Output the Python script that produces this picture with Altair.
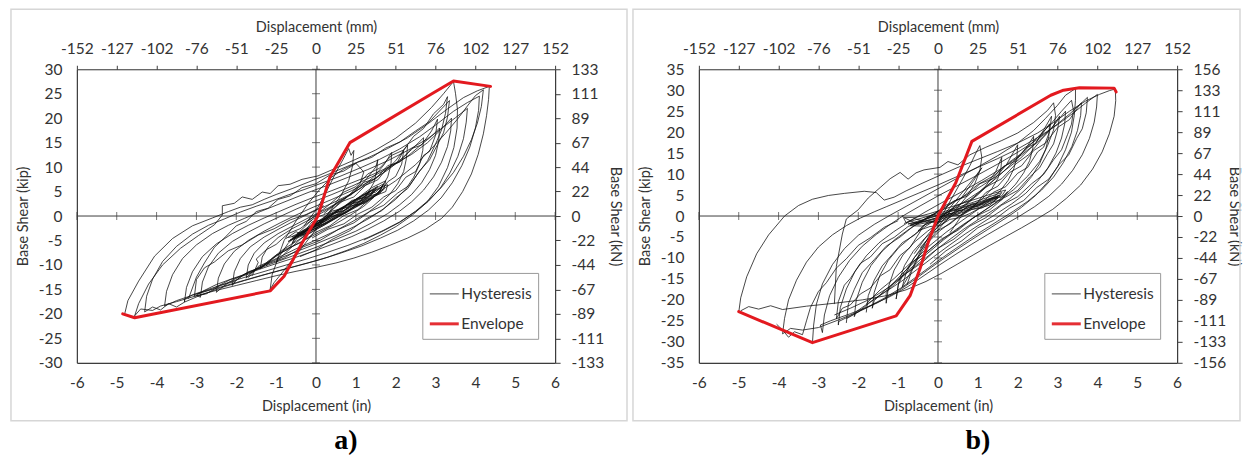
import altair as alt
import pandas as pd

# ---------------- data (inches, kip) ----------------
X_TICKS = [-6, -5, -4, -3, -2, -1, 0, 1, 2, 3, 4, 5, 6]
MM_LABELS = ["-152", "-127", "-102", "-76", "-51", "-25", "0", "25", "51", "76", "102", "127", "152"]
YA_TICKS = [-30, -25, -20, -15, -10, -5, 0, 5, 10, 15, 20, 25, 30]
KN_A = ["-133", "-111", "-89", "-67", "-44", "-22", "0", "22", "44", "67", "89", "111", "133"]
YB_TICKS = [-35, -30, -25, -20, -15, -10, -5, 0, 5, 10, 15, 20, 25, 30, 35]
KN_B = ["-156", "-133", "-111", "-89", "-67", "-44", "-22", "0", "22", "44", "67", "89", "111", "133", "156"]

SERIES = ["Hysteresis", "Envelope"]
SERIES_COLORS = ["#0f0f0f", "#e3191f"]
SERIES_WIDTHS = [0.85, 3.0]

ENV_A_X = [-4.85, -4.55, -1.15, -0.80, -0.35, 0.05, 0.35, 0.85, 2.95, 3.45, 4.38]
ENV_A_Y = [-20.0, -20.8, -15.3, -12.3, -5.5, 0.0, 8.0, 15.0, 25.2, 27.6, 26.5]

ENV_B_X = [-5.00, -3.15, -1.05, -0.70, -0.45, -0.25, 0.00, 0.45, 0.85, 2.83, 3.15, 3.55, 4.42, 4.47]
ENV_B_Y = [-22.8, -30.2, -23.8, -19.0, -12.5, -6.4, 0.0, 8.0, 17.8, 28.8, 30.0, 30.6, 30.5, 29.6]

HYST_A = [
    [(-4.80, -20.0), (-4.72, -17.3), (-4.45, -13.3), (-4.05, -8.2), (-3.60, -4.6), (-3.10, -2.0), (-2.60, -0.4),
     (-2.20, 0.9), (-1.90, 1.8), (-1.60, 2.3), (-1.30, 3.4), (-1.00, 4.4), (-0.60, 5.6), (-0.20, 6.9), (0.30, 8.5),
     (0.80, 10.2), (1.30, 11.9), (1.80, 13.8), (2.30, 16.0), (2.80, 18.8), (3.30, 21.9), (3.70, 24.2), (4.05, 25.6),
     (4.35, 26.5), (4.33, 23.8), (4.28, 20.5), (4.20, 16.8), (4.07, 12.6), (3.90, 8.6), (3.68, 5.0), (3.42, 1.8),
     (3.15, -0.5), (2.75, -2.7), (2.30, -4.5), (1.85, -6.0), (1.40, -7.4), (0.95, -8.6), (0.50, -9.6), (0.00, -10.5),
     (-0.50, -11.3), (-1.00, -12.2), (-1.50, -13.2), (-2.00, -14.2), (-2.50, -15.2), (-3.00, -16.3), (-3.50, -17.5),
     (-3.90, -18.4), (-4.10, -19.3), (-4.40, -19.0), (-4.55, -20.4)],
    [(-4.55, -20.4), (-4.45, -17.9), (-4.20, -13.9), (-3.85, -10.0), (-3.40, -6.6), (-2.95, -4.0), (-2.55, -1.8),
     (-2.35, 0.2), (-2.35, 2.1), (-2.05, 2.6), (-1.85, 3.9), (-1.60, 3.4), (-1.35, 4.9), (-1.15, 4.6), (-0.95, 6.2),
     (-0.65, 6.5), (-0.35, 7.5), (0.05, 8.2), (0.50, 9.8), (1.00, 11.6), (1.50, 13.5), (2.00, 15.9), (2.50, 19.0),
     (2.90, 22.2), (3.20, 25.0), (3.45, 27.5), (3.50, 25.1), (3.55, 21.8), (3.54, 18.0), (3.46, 14.0), (3.30, 9.9),
     (3.07, 6.0), (2.78, 2.8), (2.42, 0.2), (2.02, -2.1), (1.62, -3.9), (1.20, -5.6), (0.78, -7.0), (0.30, -8.4),
     (-0.20, -9.6), (-0.70, -10.7), (-1.20, -11.8), (-1.80, -13.2), (-2.40, -14.7), (-2.90, -16.2), (-3.30, -17.6),
     (-3.50, -18.6), (-3.70, -17.9), (-3.90, -19.2), (-4.10, -18.6), (-4.30, -19.6)],
    [(-4.30, -19.6), (-4.25, -16.4), (-4.10, -12.9), (-3.85, -9.3), (-3.50, -6.2), (-3.10, -3.7), (-2.70, -1.9),
     (-2.30, -0.6), (-1.90, 0.8), (-1.50, 2.0), (-1.10, 3.1), (-0.70, 4.3), (-0.30, 5.4), (0.10, 6.6), (0.60, 8.1),
     (1.10, 9.8), (1.60, 11.6), (2.10, 13.7), (2.60, 16.2), (3.05, 18.9), (3.45, 21.4), (3.80, 23.2), (4.10, 24.5),
     (4.08, 21.6), (4.00, 18.0), (3.86, 14.1), (3.66, 10.3), (3.42, 6.8), (3.14, 3.7), (2.82, 1.2), (2.45, -1.0),
     (2.05, -2.9), (1.62, -4.5), (1.15, -6.1), (0.65, -7.5), (0.15, -8.8), (-0.40, -10.0), (-0.90, -11.1),
     (-1.40, -12.2), (-2.00, -13.6), (-2.60, -15.0), (-3.10, -16.2), (-3.50, -17.3), (-3.80, -18.4)],
    [(-3.80, -18.4), (-3.75, -15.4), (-3.60, -12.0), (-3.35, -8.7), (-3.00, -5.9), (-2.60, -3.6), (-2.20, -1.9),
     (-1.80, -0.5), (-1.40, 0.9), (-1.00, 2.2), (-0.60, 3.5), (-0.20, 4.8), (0.30, 6.3), (0.80, 7.9), (1.30, 9.5),
     (1.80, 11.3), (2.30, 13.4), (2.80, 15.8), (3.20, 18.2), (3.50, 20.1), (3.80, 22.0), (3.77, 19.2), (3.70, 15.8),
     (3.56, 12.2), (3.36, 8.8), (3.12, 5.7), (2.82, 3.0), (2.50, 0.9), (2.10, -1.2), (1.70, -2.9), (1.30, -4.4),
     (0.80, -6.0), (0.30, -7.4), (-0.20, -8.7), (-0.70, -9.9), (-1.20, -11.1), (-1.70, -12.3), (-2.20, -13.6),
     (-2.70, -15.0), (-3.10, -16.1), (-3.30, -17.0)],
    [(-3.30, -17.0), (-3.30, -17.6), (-3.25, -14.6), (-3.10, -11.4), (-2.85, -8.3), (-2.50, -5.7), (-2.10, -3.6),
     (-1.70, -1.9), (-1.30, -0.4), (-0.90, 1.0), (-0.50, 2.4), (-0.10, 3.7), (0.40, 5.2), (0.90, 6.8), (1.40, 8.4),
     (1.90, 10.3), (2.40, 12.6), (2.80, 15.0), (3.10, 17.4), (3.40, 20.0), (3.38, 17.4), (3.30, 14.2), (3.15, 11.0),
     (2.95, 8.0), (2.70, 5.3), (2.40, 2.9), (2.10, 1.0), (1.70, -1.0), (1.30, -2.7), (0.90, -4.2), (0.40, -5.8),
     (-0.10, -7.3), (-0.60, -8.7), (-1.10, -10.0), (-1.60, -11.4), (-2.10, -12.8), (-2.50, -14.0), (-2.80, -15.2),
     (-3.00, -16.2)],
    [(-3.00, -16.2), (-2.90, -16.6), (-2.85, -13.5), (-2.70, -10.4), (-2.45, -7.6), (-2.10, -5.2), (-1.70, -3.3),
     (-1.30, -1.6), (-0.90, -0.1), (-0.50, 1.4), (-0.10, 2.8), (0.40, 4.4), (0.90, 6.1), (1.40, 8.0), (1.90, 10.1),
     (2.30, 12.2), (2.60, 14.3), (2.90, 16.3), (3.10, 18.0), (3.08, 15.4), (3.00, 12.4), (2.85, 9.5), (2.65, 6.8),
     (2.40, 4.4), (2.10, 2.3), (1.80, 0.5), (1.40, -1.4), (1.00, -3.1), (0.50, -4.8), (0.00, -6.4), (-0.50, -7.9),
     (-1.00, -9.4), (-1.50, -10.9), (-1.90, -12.3), (-2.20, -13.6), (-2.40, -14.9)],
    [(-2.40, -14.9), (-2.50, -15.6), (-2.45, -12.7), (-2.30, -9.8), (-2.05, -7.2), (-1.70, -5.0), (-1.30, -3.1),
     (-0.90, -1.4), (-0.50, 0.2), (-0.10, 1.7), (0.40, 3.4), (0.90, 5.2), (1.40, 7.3), (1.80, 9.4), (2.10, 11.4),
     (2.40, 13.6), (2.70, 16.0), (2.68, 13.4), (2.60, 10.6), (2.45, 7.9), (2.25, 5.5), (2.00, 3.4), (1.70, 1.5),
     (1.35, -0.4), (0.95, -2.2), (0.50, -4.0), (0.00, -5.7), (-0.50, -7.3), (-1.00, -8.9), (-1.40, -10.4),
     (-1.80, -11.9), (-2.00, -13.1)],
    [(-2.00, -13.1), (-2.10, -14.2), (-2.05, -11.4), (-1.90, -8.7), (-1.65, -6.3), (-1.30, -4.3), (-0.90, -2.5),
     (-0.50, -0.8), (-0.10, 0.8), (0.40, 2.6), (0.90, 4.6), (1.30, 6.6), (1.70, 8.9), (2.00, 11.3), (2.30, 14.5),
     (2.27, 11.8), (2.20, 9.1), (2.05, 6.6), (1.85, 4.4), (1.60, 2.5), (1.30, 0.7), (0.90, -1.2), (0.50, -3.0),
     (0.00, -4.9), (-0.50, -6.7), (-0.90, -8.3), (-1.30, -9.9), (-1.60, -11.4), (-1.75, -12.7)],
    [(-1.75, -12.7), (-1.70, -10.0), (-1.55, -7.6), (-1.30, -5.5), (-0.95, -3.6), (-0.55, -1.9), (-0.15, -0.2),
     (0.30, 1.6), (0.70, 3.5), (1.10, 5.6), (1.45, 8.0), (1.70, 10.4), (1.90, 13.0), (1.88, 10.4), (1.80, 8.0),
     (1.65, 5.8), (1.45, 3.8), (1.20, 2.0), (0.85, 0.1), (0.45, -1.8), (0.00, -3.7), (-0.45, -5.6), (-0.85, -7.4),
     (-1.20, -9.2), (-1.40, -10.8)],
    [(-1.40, -10.8), (-1.35, -8.4), (-1.20, -6.3), (-0.95, -4.4), (-0.60, -2.6), (-0.20, -0.9), (0.20, 0.9),
     (0.60, 2.9), (0.95, 5.0), (1.25, 7.4), (1.50, 10.0), (1.55, 11.5), (1.52, 9.0), (1.45, 6.8), (1.30, 4.7),
     (1.10, 2.9), (0.80, 1.0), (0.40, -0.9), (0.00, -2.8), (-0.40, -4.7), (-0.80, -6.7), (-1.10, -8.6), (-1.25, -10.2)],
    [(-0.30, -2.0), (0.05, 1.8), (0.30, 5.6), (0.50, 8.9), (0.68, 11.6), (0.82, 13.8), (0.88, 12.4), (0.95, 13.4),
     (0.92, 10.3), (0.82, 7.2), (0.62, 4.1), (0.35, 1.0), (0.05, -2.2), (-0.30, -5.9), (-0.60, -9.0), (-0.85, -11.6),
     (-1.05, -13.6), (-1.15, -15.0), (-1.10, -12.0), (-0.95, -8.6), (-0.70, -5.6), (-0.40, -3.1), (-0.10, -0.8)],
    [(-1.00, -9.5), (-0.80, -5.0), (-0.50, -1.0), (-0.20, 2.5), (0.10, 5.5), (0.40, 8.0), (0.70, 9.6), (1.00, 10.8),
     (1.20, 9.0), (1.10, 6.5), (0.80, 4.0), (0.40, 1.2), (0.00, -1.8), (-0.40, -4.8), (-0.80, -7.8), (-1.00, -9.5)],
    [(-0.60, -4.2), (-0.20, -2.5), (0.20, -0.6), (0.60, 1.4), (1.00, 3.2), (1.40, 5.2), (1.70, 6.6), (1.60, 5.0),
     (1.30, 3.3), (0.90, 1.6), (0.50, -0.3), (0.10, -2.1), (-0.30, -3.7), (-0.65, -4.9)],
    [(-0.65, -4.9), (-0.30, -3.1), (0.10, -1.2), (0.50, 0.9), (0.90, 2.8), (1.30, 4.9), (1.55, 6.1), (1.40, 4.4),
     (1.05, 2.6), (0.65, 0.8), (0.25, -1.0), (-0.15, -2.7), (-0.50, -4.0)],
    [(-0.50, -4.0), (-0.15, -2.4), (0.25, -0.4), (0.65, 1.6), (1.05, 3.7), (1.40, 5.8), (1.75, 7.2), (1.70, 5.4),
     (1.40, 3.6), (1.00, 1.8), (0.60, 0.0), (0.20, -1.9), (-0.20, -3.6), (-0.70, -5.2)],
    [(-0.70, -5.2), (-0.40, -3.9), (0.00, -1.9), (0.40, 0.3), (0.80, 2.4), (1.20, 4.4), (1.50, 5.6), (1.30, 4.0),
     (0.95, 2.3), (0.55, 0.5), (0.15, -1.4), (-0.25, -3.1), (-0.55, -4.4)],
    [(-0.55, -4.4), (-0.20, -2.8), (0.20, -0.9), (0.60, 1.1), (1.00, 3.0), (1.35, 4.6), (1.65, 5.9), (1.60, 4.8),
     (1.25, 3.0), (0.85, 1.2), (0.45, -0.6), (0.05, -2.3), (-0.35, -3.9), (-0.60, -4.5)],
    [(-0.45, -3.6), (-0.10, -1.8), (0.30, 0.2), (0.70, 2.0), (1.10, 3.9), (1.45, 5.4), (1.35, 3.9), (1.00, 2.1),
     (0.60, 0.3), (0.20, -1.5), (-0.20, -3.2), (-0.45, -3.9)],
    [(-0.75, -4.6), (-0.50, -3.2), (-0.35, -3.8), (-0.10, -1.9), (0.15, -1.2), (0.35, 0.4), (0.60, 0.9), (0.80, 2.3),
     (1.05, 2.8), (1.30, 4.4), (1.50, 4.9), (1.68, 6.3), (1.55, 4.6), (1.35, 4.1), (1.10, 2.5), (0.85, 2.0),
     (0.60, 0.4), (0.35, -0.2), (0.10, -1.7), (-0.15, -2.3), (-0.40, -3.8), (-0.70, -4.4)],
    [(-0.60, -5.6), (-0.45, -3.5), (-0.20, -2.9), (0.05, -1.0), (0.30, -0.5), (0.55, 1.3), (0.80, 1.8), (1.05, 3.5),
     (1.30, 3.9), (1.55, 5.6), (1.80, 6.4), (1.75, 5.0), (1.50, 4.2), (1.25, 2.7), (1.00, 2.2), (0.75, 0.6),
     (0.50, 0.0), (0.25, -1.5), (0.00, -2.1), (-0.25, -3.6), (-0.50, -4.1), (-0.60, -5.6)],
    [(-0.30, -3.3), (-0.10, -1.2), (0.15, -0.8), (0.40, 1.0), (0.65, 1.5), (0.90, 3.2), (1.15, 3.6), (1.35, 5.0),
     (1.20, 3.3), (0.95, 2.7), (0.70, 1.1), (0.45, 0.6), (0.20, -1.1), (-0.05, -1.7), (-0.30, -3.3)],
    [(0.20, 0.5), (0.60, 3.2), (0.90, 4.4), (1.20, 6.9), (1.50, 7.6), (1.80, 10.3), (2.10, 11.0), (2.40, 13.8),
     (2.65, 14.5), (2.90, 17.4), (3.05, 19.8), (3.00, 16.5), (2.85, 13.2), (2.70, 12.4), (2.50, 9.1), (2.25, 7.9),
     (2.00, 5.2), (1.70, 3.9), (1.40, 1.8), (1.05, 0.4), (0.70, -1.6), (0.30, -2.7), (-0.10, -4.5)],
    [(-0.20, -1.0), (0.30, 2.1), (0.70, 4.9), (1.00, 6.0), (1.30, 8.6), (1.60, 9.8), (1.90, 12.4), (2.20, 13.5),
     (2.45, 16.3), (2.70, 17.9), (2.95, 20.9), (3.20, 22.8), (3.30, 24.4), (3.25, 21.0), (3.15, 17.6), (3.00, 14.7),
     (2.80, 11.3), (2.55, 8.6), (2.30, 5.6), (2.00, 3.7), (1.65, 1.1), (1.25, -0.6), (0.85, -3.0), (0.40, -4.8),
     (0.00, -6.9), (-0.40, -8.3)],
    [(-0.30, -2.8), (-0.70, -6.8), (-1.00, -8.0), (-1.35, -10.5), (-1.70, -11.4), (-2.05, -13.4), (-2.40, -14.2),
     (-2.75, -15.9), (-3.05, -16.4), (-3.00, -13.0), (-2.80, -10.6), (-2.55, -9.4), (-2.20, -7.1), (-1.85, -5.9),
     (-1.45, -3.9), (-1.05, -2.6), (-0.65, -0.8), (-0.25, 0.3), (0.20, 2.1)],
    [(-1.60, -12.2), (-1.45, -9.5), (-1.50, -8.8), (-1.25, -6.9), (-1.00, -5.8), (-0.70, -3.6), (-0.40, -2.6),
     (-0.05, -0.5), (0.30, 0.6), (0.60, 2.8), (0.95, 3.9), (1.25, 6.3), (1.55, 7.4), (1.80, 9.9), (2.05, 11.1),
     (2.20, 13.4), (2.15, 10.6), (2.00, 8.1), (1.80, 7.0), (1.60, 4.6), (1.35, 3.5), (1.05, 1.3), (0.70, 0.1),
     (0.35, -2.0), (0.00, -3.3), (-0.40, -5.5), (-0.80, -6.9), (-1.15, -9.2), (-1.45, -10.3), (-1.70, -12.6)],
    [(-3.20, -16.9), (-3.00, -12.5), (-2.80, -9.6), (-2.55, -6.4), (-2.30, -4.5), (-2.00, -2.0), (-1.75, -1.1),
     (-1.50, 0.9), (-1.20, 1.6), (-0.95, 3.4), (-0.65, 4.1), (-0.35, 5.8), (0.00, 6.6), (0.35, 8.4), (0.70, 9.2),
     (1.05, 11.0), (1.40, 12.0), (1.75, 13.9), (2.10, 15.1), (2.50, 17.4), (2.85, 19.3), (3.15, 21.9), (3.35, 23.6),
     (3.30, 20.2), (3.20, 17.0), (3.05, 14.6), (2.85, 11.5), (2.60, 9.2), (2.35, 6.3), (2.05, 4.7), (1.70, 2.2),
     (1.35, 0.9), (0.95, -1.4), (0.55, -2.8), (0.10, -5.0), (-0.35, -6.4), (-0.80, -8.6), (-1.25, -9.9),
     (-1.70, -11.9), (-2.15, -13.0), (-2.60, -14.9), (-3.00, -15.9)],
    [(1.00, 2.0), (1.50, 4.5), (2.00, 7.2), (2.50, 10.5), (2.90, 13.8), (3.25, 16.9), (3.55, 19.8), (3.80, 22.5),
     (4.00, 24.6), (4.20, 25.8), (4.15, 22.4), (4.05, 19.0), (3.90, 15.6), (3.70, 12.2), (3.45, 8.9), (3.15, 5.9),
     (2.85, 3.4), (2.50, 1.0), (2.10, -1.3), (1.65, -3.2), (1.20, -4.9)],
]

HYST_B = [
    [(-5.00, -23.0), (-4.95, -19.5), (-4.80, -14.5), (-4.55, -9.0), (-4.25, -4.5), (-3.85, 0.0), (-3.50, 2.5),
     (-3.15, 4.0), (-2.75, 4.9), (-2.35, 5.4), (-1.85, 5.9), (-1.55, 5.6), (-1.35, 3.8), (-1.10, 4.5), (-0.80, 6.0),
     (-0.40, 7.8), (0.00, 9.5), (0.50, 11.6), (1.00, 13.5), (1.50, 15.4), (2.00, 17.4), (2.50, 19.8), (2.90, 22.3),
     (3.30, 25.0), (3.70, 27.4), (4.05, 29.0), (4.30, 29.9), (4.45, 30.3), (4.46, 27.5), (4.42, 23.8), (4.30, 19.6),
     (4.12, 15.3), (3.88, 11.2), (3.58, 7.4), (3.22, 4.2), (2.88, 1.6), (2.50, -0.6), (2.10, -2.8), (1.70, -4.9),
     (1.30, -7.0), (0.90, -9.2), (0.50, -11.4), (0.10, -13.6), (-0.30, -15.6), (-0.80, -17.6), (-1.30, -19.0),
     (-1.90, -20.0), (-2.60, -20.8), (-3.30, -21.5), (-3.90, -22.3), (-4.20, -21.4), (-4.50, -22.2), (-4.75, -21.6),
     (-4.95, -22.6)],
    [(-3.15, -30.2), (-3.12, -26.0), (-3.05, -21.0), (-2.90, -16.2), (-2.65, -11.6), (-2.35, -7.8), (-2.00, -4.6),
     (-1.60, -2.0), (-1.20, 0.2), (-0.80, 2.3), (-0.40, 4.4), (0.00, 6.5), (0.50, 9.1), (1.00, 11.7), (1.50, 14.4),
     (2.00, 17.4), (2.40, 20.4), (2.70, 23.3), (3.00, 26.4), (3.20, 28.8), (3.45, 30.4), (3.45, 27.6), (3.42, 24.0),
     (3.35, 20.0), (3.20, 15.8), (3.00, 11.8), (2.75, 8.1), (2.45, 4.9), (2.10, 2.1), (1.75, -0.2), (1.35, -2.6),
     (0.95, -5.0), (0.55, -7.5), (0.15, -10.1), (-0.25, -12.8), (-0.65, -15.6), (-1.05, -18.2), (-1.50, -20.6),
     (-2.00, -22.8), (-2.50, -24.8), (-3.00, -26.6), (-3.40, -27.2), (-3.70, -26.8), (-3.90, -28.1)],
    [(-3.90, -28.1), (-3.85, -24.4), (-3.75, -20.0), (-3.55, -15.3), (-3.30, -11.0), (-3.00, -7.4), (-2.65, -4.5),
     (-2.30, -2.3), (-1.95, -0.5), (-1.60, 1.0), (-1.30, 2.2), (-0.90, 3.8), (-0.50, 5.4), (0.00, 7.4), (0.50, 9.5),
     (1.00, 11.6), (1.50, 13.7), (2.00, 16.0), (2.50, 18.7), (3.00, 21.8), (3.40, 24.6), (3.70, 26.9), (4.00, 29.0),
     (3.98, 26.0), (3.92, 22.4), (3.80, 18.5), (3.62, 14.6), (3.38, 10.9), (3.10, 7.6), (2.78, 4.7), (2.42, 2.2),
     (2.05, 0.0), (1.65, -2.2), (1.25, -4.4), (0.85, -6.7), (0.45, -9.1), (0.05, -11.6), (-0.35, -14.2),
     (-0.75, -16.8), (-1.20, -19.2), (-1.70, -21.4), (-2.20, -23.3), (-2.70, -25.0), (-2.95, -26.0)],
    [(-2.95, -26.0), (-2.90, -27.8), (-2.85, -23.6), (-2.72, -19.0), (-2.50, -14.6), (-2.22, -10.6), (-1.90, -7.2),
     (-1.55, -4.4), (-1.20, -2.0), (-0.85, 0.2), (-0.45, 2.4), (0.00, 4.8), (0.50, 7.3), (1.00, 9.8), (1.50, 12.4),
     (2.00, 15.2), (2.50, 18.3), (2.90, 21.2), (3.30, 24.3), (3.60, 27.0), (3.58, 24.0), (3.50, 20.4), (3.36, 16.6),
     (3.15, 12.8), (2.90, 9.3), (2.60, 6.2), (2.25, 3.5), (1.90, 1.2), (1.50, -1.2), (1.10, -3.6), (0.70, -6.1),
     (0.30, -8.7), (-0.10, -11.4), (-0.50, -14.2), (-0.90, -17.0), (-1.35, -19.6), (-1.80, -21.9), (-2.20, -23.8),
     (-2.50, -25.2)],
    [(-2.50, -25.2), (-2.50, -26.0), (-2.45, -21.8), (-2.30, -17.4), (-2.08, -13.2), (-1.80, -9.5), (-1.48, -6.4),
     (-1.12, -3.8), (-0.75, -1.5), (-0.35, 0.8), (0.10, 3.2), (0.60, 5.8), (1.10, 8.5), (1.60, 11.4), (2.10, 14.6),
     (2.50, 17.6), (2.85, 21.0), (3.20, 25.0), (3.18, 22.0), (3.10, 18.6), (2.96, 15.0), (2.76, 11.5), (2.50, 8.3),
     (2.20, 5.4), (1.85, 2.9), (1.48, 0.6), (1.08, -1.8), (0.68, -4.3), (0.28, -7.0), (-0.12, -9.8), (-0.52, -12.7),
     (-0.92, -15.6), (-1.35, -18.3), (-1.75, -20.8), (-2.05, -22.8)],
    [(-2.05, -22.8), (-2.10, -24.0), (-2.05, -20.0), (-1.90, -15.8), (-1.68, -11.8), (-1.40, -8.4), (-1.08, -5.6),
     (-0.72, -3.1), (-0.32, -0.7), (0.12, 1.8), (0.60, 4.4), (1.10, 7.2), (1.60, 10.3), (2.05, 13.6), (2.45, 17.4),
     (2.80, 22.0), (2.78, 19.0), (2.70, 15.8), (2.55, 12.5), (2.35, 9.4), (2.10, 6.6), (1.80, 4.1), (1.45, 1.8),
     (1.05, -0.6), (0.65, -3.1), (0.25, -5.9), (-0.15, -8.8), (-0.55, -11.8), (-0.95, -14.8), (-1.35, -17.8),
     (-1.60, -20.2)],
    [(-1.60, -20.2), (-1.65, -22.0), (-1.60, -18.2), (-1.46, -14.2), (-1.25, -10.6), (-0.98, -7.5), (-0.66, -4.9),
     (-0.30, -2.4), (0.12, 0.2), (0.58, 2.9), (1.05, 5.9), (1.50, 9.3), (1.90, 13.0), (2.20, 16.0), (2.40, 19.0),
     (2.38, 16.2), (2.30, 13.2), (2.15, 10.3), (1.95, 7.6), (1.70, 5.1), (1.40, 2.9), (1.05, 0.6), (0.65, -1.9),
     (0.25, -4.6), (-0.15, -7.5), (-0.55, -10.6), (-0.90, -13.8), (-1.20, -16.8), (-1.30, -18.5)],
    [(-1.30, -18.5), (-1.30, -20.8), (-1.24, -16.8), (-1.10, -12.9), (-0.88, -9.3), (-0.60, -6.3), (-0.26, -3.6),
     (0.12, -1.0), (0.54, 1.8), (0.98, 4.9), (1.38, 8.4), (1.72, 12.3), (2.00, 17.0), (1.98, 14.0), (1.90, 11.2),
     (1.76, 8.5), (1.56, 6.0), (1.30, 3.7), (0.98, 1.4), (0.60, -1.1), (0.20, -3.9), (-0.20, -7.0), (-0.55, -10.2),
     (-0.85, -13.4), (-1.00, -16.5)],
    [(-1.00, -16.5), (-1.05, -19.8), (-0.98, -15.6), (-0.84, -11.8), (-0.62, -8.4), (-0.34, -5.4), (0.00, -2.6),
     (0.40, 0.4), (0.82, 3.6), (1.20, 7.2), (1.45, 10.6), (1.60, 14.0), (1.58, 11.4), (1.50, 8.9), (1.35, 6.5),
     (1.12, 4.2), (0.82, 1.9), (0.45, -0.6), (0.05, -3.5), (-0.30, -6.7), (-0.60, -10.0), (-0.80, -13.6), (-0.90, -17.0)],
    [(-0.90, -17.0), (-0.72, -14.0), (-0.50, -9.6), (-0.25, -5.2), (0.05, -0.8), (0.32, 3.8), (0.58, 8.2),
     (0.80, 12.0), (0.95, 15.0), (1.05, 16.8), (1.10, 14.0), (1.05, 10.8), (0.92, 7.6), (0.70, 4.4), (0.42, 1.2),
     (0.10, -2.2), (-0.22, -5.8), (-0.48, -9.6), (-0.66, -13.2), (-0.78, -16.4)],
    [(-2.60, -21.0), (-2.55, -12.0), (-2.40, -4.3), (-2.30, -0.7), (-2.00, 1.5), (-1.75, 4.3), (-1.45, 6.8),
     (-1.20, 8.9), (-0.95, 10.4), (-0.75, 8.8), (-0.55, 10.3), (-0.35, 11.0), (0.05, 11.6), (0.25, 13.0),
     (0.50, 12.2), (0.80, 14.6), (1.20, 16.4), (1.60, 18.0), (2.00, 19.8), (2.40, 22.3), (2.75, 25.2), (2.90, 27.0),
     (2.95, 24.0), (2.90, 20.5), (2.75, 16.8), (2.55, 13.0), (2.25, 9.5), (1.90, 6.3), (1.50, 3.4), (1.05, 0.6),
     (0.60, -2.4), (0.15, -5.6), (-0.30, -9.2), (-0.75, -13.0), (-1.20, -16.8), (-1.70, -19.8), (-2.20, -22.0),
     (-2.60, -23.6)],
    [(-0.90, 0.2), (-0.80, -1.6), (-0.60, -1.0), (-0.30, -0.2), (0.00, 0.6), (0.40, 1.8), (0.80, 3.0), (1.20, 4.3),
     (1.60, 5.6), (1.50, 4.2), (1.20, 3.0), (0.80, 1.7), (0.40, 0.5), (0.00, -0.6), (-0.40, -1.5), (-0.70, -2.2)],
    [(-0.70, -2.2), (-0.40, -1.0), (0.00, 0.1), (0.40, 1.3), (0.80, 2.5), (1.20, 3.6), (1.50, 4.8), (1.40, 3.4),
     (1.10, 2.3), (0.70, 1.1), (0.30, -0.1), (-0.10, -1.2), (-0.50, -2.0), (-0.85, -0.4)],
    [(-0.85, -0.4), (-0.55, -0.3), (-0.20, 0.6), (0.20, 1.8), (0.60, 3.0), (1.00, 4.2), (1.35, 5.3), (1.70, 6.2),
     (1.60, 4.8), (1.25, 3.6), (0.85, 2.3), (0.45, 1.0), (0.05, -0.2), (-0.35, -1.3), (-0.75, -1.9)],
    [(-0.75, -1.9), (-0.35, -0.8), (0.05, 0.4), (0.45, 1.6), (0.85, 2.8), (1.25, 4.0), (1.55, 5.0), (1.35, 3.8),
     (1.00, 2.6), (0.60, 1.4), (0.20, 0.2), (-0.20, -0.9), (-0.60, -1.7)],
    [(-0.60, -9.0), (-0.30, -5.0), (0.00, -1.5), (0.30, 2.0), (0.60, 5.5), (0.90, 9.0), (1.10, 11.5), (0.90, 8.5),
     (0.60, 4.5), (0.30, 1.0), (0.00, -2.5), (-0.30, -6.0), (-0.60, -10.0), (-0.80, -13.0)],
    [(-0.85, -1.8), (-0.60, -0.6), (-0.40, -1.1), (-0.15, 0.3), (0.10, 0.0), (0.35, 1.5), (0.60, 1.3), (0.85, 2.9),
     (1.10, 2.8), (1.35, 4.3), (1.60, 4.5), (1.75, 5.8), (1.60, 3.9), (1.35, 3.3), (1.10, 1.9), (0.85, 1.6),
     (0.60, 0.2), (0.35, 0.0), (0.10, -1.3), (-0.15, -1.4), (-0.40, -2.4), (-0.70, -2.3)],
    [(-0.50, -3.5), (-0.25, -1.3), (0.00, -1.6), (0.25, 0.6), (0.50, 0.4), (0.75, 2.4), (1.00, 2.3), (1.25, 4.0),
     (1.50, 4.3), (1.30, 2.6), (1.05, 1.9), (0.80, 0.6), (0.55, -0.4), (0.30, -0.8), (0.05, -2.3), (-0.20, -2.5),
     (-0.50, -3.5)],
    [(0.00, 0.5), (0.40, 3.6), (0.75, 4.8), (1.05, 7.7), (1.35, 8.8), (1.65, 11.9), (1.95, 13.1), (2.20, 16.2),
     (2.45, 17.3), (2.65, 20.5), (2.85, 23.8), (2.80, 20.1), (2.65, 16.4), (2.50, 15.3), (2.25, 11.6), (2.00, 10.2),
     (1.70, 7.0), (1.40, 5.7), (1.05, 2.8), (0.70, 1.2), (0.30, -1.9), (-0.10, -3.9), (-0.45, -7.6)],
    [(0.30, -4.0), (0.60, 0.2), (0.90, 2.3), (1.20, 5.6), (1.50, 7.1), (1.80, 10.4), (2.10, 12.0), (2.40, 15.6),
     (2.70, 17.4), (3.00, 21.1), (3.30, 23.0), (3.55, 26.5), (3.75, 28.3), (3.72, 24.6), (3.62, 20.8), (3.48, 18.5),
     (3.28, 14.6), (3.05, 12.4), (2.78, 8.8), (2.48, 6.8), (2.15, 3.7), (1.80, 1.9), (1.40, -1.0), (1.00, -2.8),
     (0.60, -5.9), (0.20, -8.3), (-0.20, -11.5)],
    [(-0.40, -3.0), (-0.70, -7.5), (-0.95, -9.4), (-1.20, -12.8), (-1.45, -14.3), (-1.70, -17.2), (-1.95, -18.6),
     (-2.20, -21.2), (-2.40, -22.0), (-2.55, -24.5), (-2.50, -20.4), (-2.35, -16.5), (-2.20, -14.9), (-1.95, -11.3),
     (-1.70, -9.8), (-1.40, -6.6), (-1.10, -5.1), (-0.75, -2.5), (-0.40, -1.1), (0.00, 1.0)],
    [(-1.80, -23.0), (-1.75, -19.0), (-1.60, -15.3), (-1.40, -11.9), (-1.15, -9.2), (-0.90, -6.4), (-0.60, -4.6),
     (-0.30, -1.9), (0.05, -0.6), (0.40, 2.2), (0.80, 3.8), (1.20, 6.9), (1.60, 8.9), (1.95, 12.4), (2.30, 14.8),
     (2.60, 18.3), (2.85, 20.9), (3.05, 23.8), (3.00, 20.5), (2.90, 17.2), (2.75, 14.9), (2.55, 11.5), (2.30, 9.3),
     (2.00, 6.1), (1.65, 4.3), (1.30, 1.5), (0.90, -0.3), (0.50, -3.4), (0.10, -5.4), (-0.30, -8.8), (-0.70, -11.3),
     (-1.10, -14.9), (-1.45, -17.6), (-1.80, -20.9)],
    [(-2.30, -25.5), (-2.25, -21.0), (-2.10, -17.5), (-1.90, -13.5), (-1.60, -10.4), (-1.30, -7.2), (-0.95, -5.0),
     (-0.60, -2.3), (-0.20, -0.3), (0.20, 2.6), (0.60, 4.4), (1.00, 7.5), (1.40, 9.6), (1.80, 12.9), (2.15, 15.3),
     (2.50, 18.8), (2.80, 21.6), (3.10, 25.0), (3.35, 27.6), (3.40, 25.2), (3.35, 21.9), (3.25, 19.4), (3.10, 15.8),
     (2.90, 13.4), (2.65, 9.9), (2.35, 7.7), (2.00, 4.6), (1.60, 2.6), (1.20, -0.4), (0.80, -2.4), (0.40, -5.5),
     (0.00, -7.7), (-0.40, -11.1), (-0.80, -13.7), (-1.20, -17.2), (-1.60, -19.8), (-2.00, -22.9), (-2.30, -24.5)],
    [(-4.05, -25.8), (-3.90, -27.2), (-3.75, -28.9), (-3.60, -27.6), (-3.40, -28.3), (-3.30, -25.0), (-3.20, -21.8),
     (-3.00, -18.0), (-2.80, -15.9), (-2.55, -12.4), (-2.30, -10.2), (-2.00, -7.0), (-1.70, -5.2), (-1.35, -2.7),
     (-1.00, -1.1)],
]

# ---------------- styling ----------------
FONT = "Lato"
TXT = "#333333"
AXC = "#3c3c3c"
LBL = 15.5
TTL = 14.5


def lab_expr(values, labels):
    vals = ",".join(str(v) for v in values)
    labs = ",".join("'" + s + "'" for s in labels)
    return "[" + labs + "][indexof([" + vals + "], datum.value)]"


def loops_df(loops):
    rows = []
    for k, loop in enumerate(loops):
        for i, (x, y) in enumerate(loop):
            rows.append({"loop": k, "i": i, "x": x, "y": y, "series": "Hysteresis"})
    return pd.DataFrame(rows)


AX_COMMON = dict(labelFont=FONT, labelFontSize=LBL, labelColor=TXT, titleFont=FONT, titleFontSize=TTL,
                 titleFontWeight="normal", titleColor=TXT, domainColor=AXC, domainWidth=1.2, grid=False,
                 tickColor=AXC, labelFlush=False, labelOverlap=False)


def panel(loops, ex, ey, yticks, kn, letter, dx, box_x2, kn_pad):
    xs = alt.Scale(domain=[X_TICKS[0], X_TICKS[-1]], nice=False, zero=False)
    ys = alt.Scale(domain=[yticks[0], yticks[-1]], nice=False, zero=False)
    cs = alt.Scale(domain=SERIES, range=SERIES_COLORS)
    ws = alt.Scale(domain=SERIES, range=SERIES_WIDTHS)
    leg = alt.Legend(title=None, orient="none", legendX=346, legendY=204, padding=6,
                     strokeColor="#9a9a9a", fillColor="white", labelFont=FONT, labelFontSize=LBL,
                     labelColor=TXT, symbolType="stroke", symbolSize=841, rowPadding=5, labelOffset=1)

    x_axis = alt.Axis(values=X_TICKS, labelExpr="'' + datum.value", title="Displacement (in)", ticks=False,
                      tickSize=0, labelPadding=13, titlePadding=8, **AX_COMMON)
    y_axis = alt.Axis(values=yticks, labelExpr="'' + datum.value", title="Base Shear (kip)", ticks=False,
                      tickSize=0, labelPadding=15, titlePadding=8, **AX_COMMON)
    xb = alt.X("x:Q", scale=xs, axis=x_axis)
    yl = alt.Y("y:Q", scale=ys, axis=y_axis)

    hdf = loops_df(loops)
    edf = pd.DataFrame({"x": ex, "y": ey, "i": list(range(len(ex))), "series": "Envelope"})
    zdf = pd.DataFrame({"x": [0], "y": [0]})
    xtdf = pd.DataFrame({"x": [v for v in X_TICKS if v != 0], "y": 0})
    ytdf = pd.DataFrame({"y": [v for v in yticks if v != 0], "x": 0})
    box = pd.DataFrame({"k": [0]})

    border = alt.Chart(box).mark_rect(filled=False, stroke="#d6d6d6", strokeWidth=1.5).encode(
        x=alt.value(-66), x2=alt.value(box_x2), y=alt.value(-60), y2=alt.value(352))
    zh = alt.Chart(zdf).mark_rule(color=AXC, strokeWidth=1).encode(y=yl)
    zv = alt.Chart(zdf).mark_rule(color=AXC, strokeWidth=1).encode(x=xb)
    tx = alt.Chart(xtdf).mark_tick(orient="vertical", size=8, thickness=1, color=AXC).encode(x=xb, y=yl)
    ty = alt.Chart(ytdf).mark_tick(orient="horizontal", size=8, thickness=1, color=AXC).encode(x=xb, y=yl)

    hyst = alt.Chart(hdf).mark_line(opacity=0.9, strokeJoin="round").encode(
        x=xb, y=yl,
        color=alt.Color("series:N", scale=cs, legend=leg),
        strokeWidth=alt.StrokeWidth("series:N", scale=ws, legend=leg),
        detail="loop:N", order="i:Q")
    env = alt.Chart(edf).mark_line(strokeJoin="round", strokeCap="round").encode(
        x=xb, y=yl,
        color=alt.Color("series:N", scale=cs, legend=leg),
        strokeWidth=alt.StrokeWidth("series:N", scale=ws, legend=leg),
        order="i:Q")

    inner = alt.layer(border, zh, zv, tx, ty, hyst, env)

    axes2 = alt.Chart(edf).mark_point(opacity=0).encode(
        x=alt.X("x:Q", scale=xs, axis=alt.Axis(orient="top", values=X_TICKS, labelExpr=lab_expr(X_TICKS, MM_LABELS),
                                               title="Displacement (mm)", ticks=True, tickSize=4, labelPadding=9,
                                               titlePadding=7, **AX_COMMON)),
        y=alt.Y("y:Q", scale=ys, axis=alt.Axis(orient="right", values=yticks, labelExpr=lab_expr(yticks, kn),
                                               title="Base Shear (kN)", ticks=True, tickSize=5, labelPadding=11,
                                               titlePadding=kn_pad, **AX_COMMON)))

    return alt.layer(inner, axes2).resolve_scale(x="independent", y="independent").properties(
        width=479, height=294,
        title=alt.TitleParams(letter, orient="bottom", anchor="middle", frame="group", font="Liberation Serif",
                              fontSize=28, fontWeight="bold", color="black", dx=dx, offset=6))


pa = panel(HYST_A, ENV_A_X, ENV_A_Y, YA_TICKS, KN_A, "a)", 30, 551, 4)
pb = panel(HYST_B, ENV_B_X, ENV_B_Y, YB_TICKS, KN_B, "b)", 40, 542, 1)

chart = alt.hconcat(pa, pb, spacing=2).resolve_scale(
    color="independent", strokeWidth="independent").resolve_legend(
    color="independent", strokeWidth="independent").properties(
    padding={"left": 9, "top": 7, "right": 0, "bottom": 0}).configure_view(strokeWidth=0).configure(
    background="white")

chart.save("out.html", embed_options={"renderer": "svg", "actions": False})
